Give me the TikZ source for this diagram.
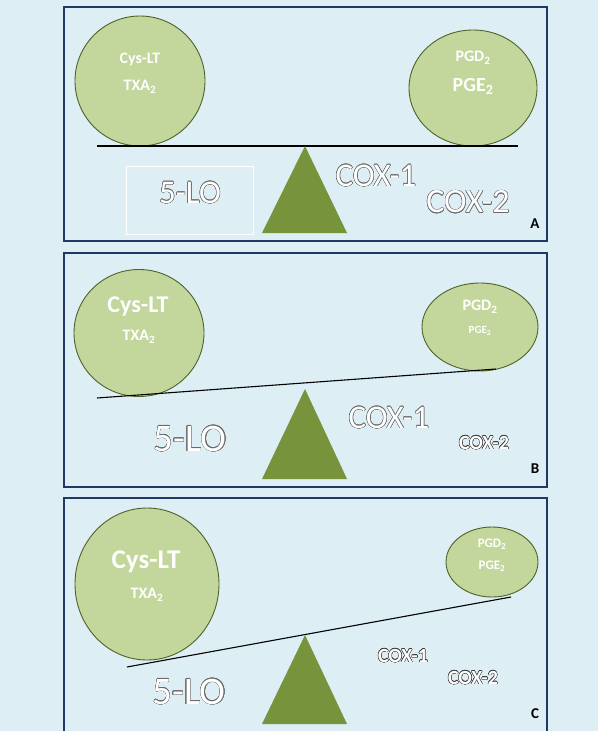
\documentclass[tikz,border=0pt]{standalone}
\usepackage{fontspec}
\setmainfont{Carlito}
\usepackage{contour}
\contourlength{0.45pt}
\usetikzlibrary{shapes.geometric}

\definecolor{bgblue}{HTML}{DDEEF5}
\definecolor{framenavy}{HTML}{1F3864}
\definecolor{ballfill}{HTML}{C3D69B}
\definecolor{balledge}{HTML}{4F6228}
\definecolor{fulcrumgreen}{HTML}{77933C}
\definecolor{outlinegray}{HTML}{6A6A6A}

\newcommand{\hollow}[2]{\contour{#1}{\textcolor{white}{#2}}}

\tikzset{
  panel/.style={draw=framenavy, line width=1.6},
  ball/.style={ellipse, draw=balledge, fill=ballfill, line width=0.9, inner sep=0},
  balltext/.style={text=white, font=\bfseries\fontsize{#1}{#1}\selectfont},
  enzyme/.style={font=\fontsize{#1}{#1}\selectfont},
  beam/.style={black, line width=1.1},
  fulcrum/.style={fill=fulcrumgreen},
  tag/.style={font=\bfseries\fontsize{15}{15}\selectfont}
}

\begin{document}
\begin{tikzpicture}[x=1pt, y=-1pt]

\clip (0,0) rectangle (598,731);
\fill[bgblue] (0,0) rectangle (598,731);

\draw[panel] (64,7) rectangle (547,241);
\draw[panel] (64,253) rectangle (547,487);
\draw[panel] (64,498) rectangle (547,740);

\draw (140,81) node[ball, minimum width=130, minimum height=130] (ballAl) {};
\draw (473,88) node[ball, minimum width=128, minimum height=116] (ballAr) {};
\draw (140,60) node[balltext=16] (cysA) {Cys-LT};
\draw (140,87) node[balltext=16] (txaA) {TXA\textsubscript{2}};
\draw (473,58) node[balltext=16] (pgdA) {PGD\textsubscript{2}};
\draw (473,86) node[balltext=20] (pgeA) {PGE\textsubscript{2}};
\coordinate (beamAl) at (97,146);
\coordinate (beamAr) at (518,146);
\draw[beam] (beamAl) -- (beamAr);
\fill[fulcrum] (305,146) -- (347,233) -- (262,233) -- cycle;
\draw[white, line width=0.8] (126,166) rectangle (253,234);
\draw (190,193) node[enzyme=33] (loA) {\hollow{outlinegray}{5-LO}};
\draw (376,176) node[enzyme=33] (coxoneA) {\hollow{outlinegray}{COX-1}};
\draw (468,202) node[enzyme=34] (coxtwoA) {\hollow{outlinegray}{COX-2}};
\draw (535,224) node[tag] (tagA) {A};

\draw (139,333) node[ball, minimum width=130, minimum height=127] (ballBl) {};
\draw (480,327) node[ball, minimum width=116, minimum height=88] (ballBr) {};
\draw (138,307) node[balltext=24] (cysB) {Cys-LT};
\draw (139,337) node[balltext=16] (txaB) {TXA\textsubscript{2}};
\draw (480,307) node[balltext=16] (pgdB) {PGD\textsubscript{2}};
\draw (480,331) node[balltext=11] (pgeB) {PGE\textsubscript{2}};
\coordinate (beamBl) at (97,398);
\coordinate (beamBr) at (496,369);
\draw[beam] (beamBl) -- (beamBr);
\fill[fulcrum] (305,389) -- (347,479) -- (262,479) -- cycle;
\draw (190,439) node[enzyme=39] (loB) {\hollow{outlinegray}{5-LO}};
\draw (389,418) node[enzyme=33] (coxoneB) {\hollow{outlinegray}{COX-1}};
\draw (484,443) node[enzyme=20] (coxtwoB) {\contourlength{0.4pt}\hollow{black!75}{\bfseries COX-2}};
\draw (535,469) node[tag] (tagB) {B};

\draw (147,584) node[ball, minimum width=144, minimum height=152] (ballCl) {};
\draw (492,562) node[ball, minimum width=92, minimum height=70] (ballCr) {};
\draw (146,562) node[balltext=27] (cysC) {Cys-LT};
\draw (147,595) node[balltext=16] (txaC) {TXA\textsubscript{2}};
\draw (492,544) node[balltext=13] (pgdC) {PGD\textsubscript{2}};
\draw (492,566) node[balltext=13] (pgeC) {PGE\textsubscript{2}};
\coordinate (beamCl) at (127,667);
\coordinate (beamCr) at (511,597);
\draw[beam] (beamCl) -- (beamCr);
\fill[fulcrum] (305,635) -- (347,724) -- (262,724) -- cycle;
\draw (189,692) node[enzyme=39] (loC) {\hollow{outlinegray}{5-LO}};
\draw (403,656) node[enzyme=20] (coxoneC) {\contourlength{0.4pt}\hollow{black!75}{\bfseries COX-1}};
\draw (473,678) node[enzyme=20] (coxtwoC) {\contourlength{0.4pt}\hollow{black!75}{\bfseries COX-2}};
\draw (535,714) node[tag] (tagC) {C};

\end{tikzpicture}
\end{document}
